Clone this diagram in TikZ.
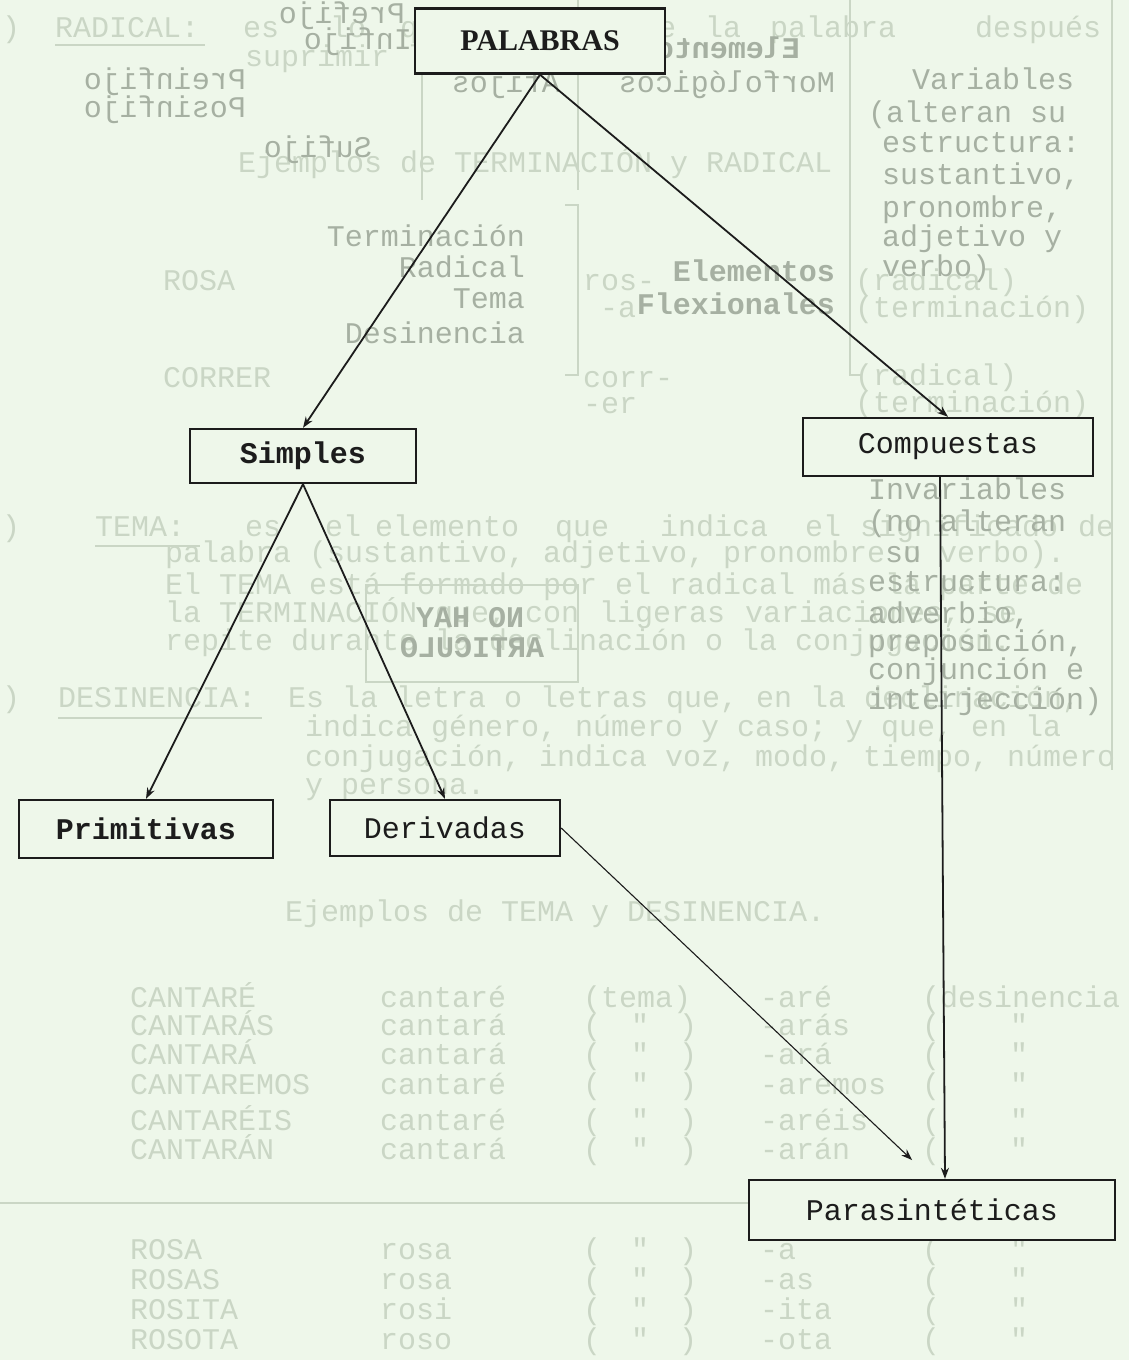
\documentclass[tikz,border=0pt]{standalone}
\usepackage{fontspec}
\setmainfont{Liberation Serif}
\newfontfamily\monof{Liberation Mono}
\usetikzlibrary{arrows.meta}
\definecolor{paper}{HTML}{EEF7EA}
\definecolor{ink}{HTML}{1C1C1C}
\definecolor{ghost}{HTML}{CAD6C5}
\definecolor{ghostdk}{HTML}{A6B0A2}
\tikzset{
  gt/.style={text=ghost, anchor=base west, inner sep=0pt, font=\monof\fontsize{30}{32}\selectfont},
  gd/.style={gt, text=ghostdk},
  gdr/.style={gd, anchor=base east},
  gm/.style={gd, xscale=-1},
  gline/.style={draw=ghost, line width=1.6pt},
  wbox/.style={draw=ink, fill=paper, line width=2.4pt, inner sep=0pt, text=ink},
  bbold/.style={wbox, font=\monof\bfseries\fontsize{30}{32}\selectfont},
  breg/.style={wbox, font=\monof\fontsize{30}{32}\selectfont},
  arr/.style={draw=ink, line width=1.8pt, -{Stealth[length=11pt,width=8pt]}},
  arrthin/.style={draw=ink, line width=1.1pt, -{Stealth[length=11pt,width=8pt]}},
}
\begin{document}
\begin{tikzpicture}[x=1pt,y=-1pt]
\fill[paper] (0,0) rectangle (1129,1360);
\useasboundingbox (0,0) rectangle (1129,1360);

% ---------- faint show-through lines ----------
\draw[gline] (422,72) -- (422,200);
\draw[gline] (578,0) -- (578,190);
\draw[gline] (565,205) -- (578,205) -- (578,375) -- (565,375);
\draw[gline] (850,0) -- (850,375) -- (862,375);
\draw[gline] (1112,0) -- (1112,770);
\draw[gline] (366,585) rectangle (578,682);
\draw[gline] (0,1203) -- (760,1203);
\draw[gline] (55,45) -- (205,45);
\draw[gline] (95,546) -- (200,546);
\draw[gline] (58,718) -- (262,718);

% ---------- faint forward text ----------
\foreach \x/\w in {2/), 55/RADICAL:, 243/es, 330/lo, 400/que, 555/queda, 640/de, 705/la, 770/palabra, 975/después}
  \node[gt] at (\x,37) {\w};
\node[gt] at (245,66) {suprimir la terminación};
\node[gt] at (238,172) {Ejemplos de TERMINACIÓN y RADICAL};
\node[gt] at (163,290) {ROSA};
\node[gt] at (583,290) {ros-};
\node[gt] at (855,290) {(radical)};
\node[gt] at (600,317) {-a};
\node[gt] at (855,317) {(terminación)};
\node[gt] at (163,387) {CORRER};
\node[gt] at (583,387) {corr-};
\node[gt] at (855,385) {(radical)};
\node[gt] at (583,413) {-er};
\node[gt] at (855,412) {(terminación)};

\foreach \x/\w in {2/), 95/TEMA:, 245/es, 325/el, 375/elemento, 555/que, 660/indica, 805/el, 860/significado, 1078/de}
  \node[gt] at (\x,536) {\w};
\node[gt] at (165,562) {palabra (sustantivo, adjetivo, pronombre o verbo).};
\node[gt] at (165,594) {El TEMA está formado por el radical más la parte de};
\node[gt] at (165,622) {la TERMINACIÓN que, con\hspace{20pt}ligeras\hspace{20pt}variaciones,\hspace{20pt}se};
\node[gt] at (165,650) {repite durante la declinación o la conjugación.};
\node[gt] at (2,707) {)};
\node[gt] at (58,707) {DESINENCIA:};
\node[gt] at (288,707) {Es la letra o letras que, en la declinación,};
\node[gt] at (305,736) {indica género, número y caso; y que, en la};
\node[gt] at (305,766) {conjugación, indica voz, modo, tiempo, número};
\node[gt] at (305,794) {y persona.};
\node[gt] at (285,921) {Ejemplos de TEMA y DESINENCIA.};

\foreach \y/\a/\b/\c/\d in {1007/CANTARÉ/cantaré/{(tema)}/-aré, 1035/CANTARÁS/cantará/{(\hspace{30pt}"\hspace{30pt})}/-arás, 1064/CANTARÁ/cantará/{(\hspace{30pt}"\hspace{30pt})}/-ará, 1094/CANTAREMOS/cantaré/{(\hspace{30pt}"\hspace{30pt})}/-aremos, 1130/CANTARÉIS/cantaré/{(\hspace{30pt}"\hspace{30pt})}/-aréis, 1159/CANTARÁN/cantará/{(\hspace{30pt}"\hspace{30pt})}/-arán, 1259/ROSA/rosa/{(\hspace{30pt}"\hspace{30pt})}/-a, 1289/ROSAS/rosa/{(\hspace{30pt}"\hspace{30pt})}/-as, 1319/ROSITA/rosi/{(\hspace{30pt}"\hspace{30pt})}/-ita, 1349/ROSOTA/roso/{(\hspace{30pt}"\hspace{30pt})}/-ota}
{
  \node[gt] at (130,\y) {\a};
  \node[gt] at (380,\y) {\b};
  \node[gt] at (583,\y) {\c};
  \node[gt] at (760,\y) {\d};
}
\node[gt] at (922,1007) {(desinencia};
\foreach \y in {1035,1064,1094,1130,1159,1259,1289,1319,1349}
  \node[gt] at (922,\y) {(\hspace{70pt}"};

% ---------- darker show-through ----------
\node[gd] at (912,89) {Variables};
\node[gd] at (868,122) {(alteran su};
\node[gd] at (882,152) {estructura:};
\node[gd] at (882,184) {sustantivo,};
\node[gd] at (882,217) {pronombre,};
\node[gd] at (882,246) {adjetivo y};
\node[gd] at (882,276) {verbo)};
\node[gd] at (868,499) {Invariables};
\node[gd] at (868,531) {(no alteran};
\node[gd] at (885,562) {su};
\node[gd] at (868,591) {estructura:};
\node[gd] at (868,623) {adverbio,};
\node[gd] at (868,651) {preposición,};
\node[gd] at (868,679) {conjunción e};
\node[gd] at (868,709) {interjección)};

\node[gdr] at (525,246) {Terminación};
\node[gdr] at (525,277) {Radical};
\node[gdr] at (525,308) {Tema};
\node[gdr] at (525,343) {Desinencia};
\node[gdr, font=\monof\bfseries\fontsize{30}{32}\selectfont] at (835,281) {Elementos};
\node[gdr, font=\monof\bfseries\fontsize{30}{32}\selectfont] at (835,314) {Flexionales};

% mirrored
\node[gm] at (405,23) {Prefijo};
\node[gm] at (412,49) {Infijo};
\node[gm] at (246,89) {Preinfijo};
\node[gm] at (246,117) {Posinfijo};
\node[gm] at (372,157) {Sufijo};
\node[gm] at (560,92) {Afijos};
\node[gm, font=\monof\bfseries\fontsize{30}{32}\selectfont] at (800,58) {Elementos};
\node[gm] at (835,92) {Morfológicos};
\node[gm, anchor=base, font=\monof\bfseries\fontsize{30}{32}\selectfont] at (470,627) {NO HAY};
\node[gm, anchor=base, font=\monof\bfseries\fontsize{30}{32}\selectfont] at (472,657) {ARTICULO};

% ---------- main tree ----------
\node[wbox, minimum width=250pt, minimum height=65pt, font=\bfseries\fontsize{30}{32}\selectfont] (pal) at (540,41) {PALABRAS};
\node[bbold, minimum width=226pt, minimum height=54pt] (sim) at (303,456) {Simples};
\node[breg, minimum width=290pt, minimum height=58pt] (comp) at (948,447) {Compuestas};
\node[bbold, minimum width=254pt, minimum height=58pt] (prim) at (146,829) {Primitivas};
\node[breg, minimum width=230pt, minimum height=56pt] (der) at (445,828) {Derivadas};
\node[breg, minimum width=366pt, minimum height=60pt] (para) at (932,1210) {Parasintéticas};
\coordinate (dend) at (912,1160);

\draw[arr] (pal.south) -- (sim.north);
\draw[arr] (pal.south) -- (comp.north);
\draw[arr] (sim.south) -- (prim.north);
\draw[arr] (sim.south) -- (der.north);
\draw[arr] ([xshift=-8pt]comp.south) -- ([xshift=13pt]para.north);
\draw[arrthin] (der.east) -- (dend);
\end{tikzpicture}
\end{document}
